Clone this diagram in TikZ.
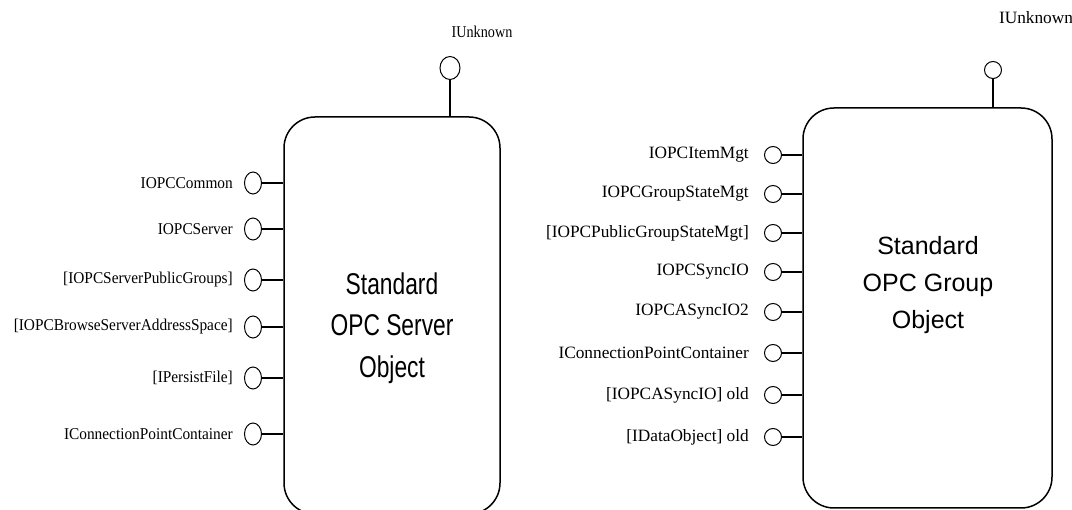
\documentclass[tikz,border=0pt]{standalone}
\usepackage{fontspec}
\setmainfont{Liberation Serif}
\newfontfamily\narrowserif[FakeStretch=0.93]{Liberation Serif}
\newfontfamily\tightserif[FakeStretch=0.86]{Liberation Serif}
\newfontfamily\narrowsans[FakeStretch=0.76]{Liberation Sans}
\newfontfamily\plainsans{Liberation Sans}
\usetikzlibrary{shapes.geometric}

\begin{document}
\begin{tikzpicture}[x=1pt,y=-1pt,
  objbox/.style={draw, line width=1.5pt, rounded corners=31pt, inner sep=0pt},
  lport/.style={draw, ellipse, line width=1pt, minimum width=17pt, minimum height=22pt, inner sep=0pt},
  rport/.style={draw, circle, line width=1pt, minimum size=17pt, inner sep=0pt},
  wire/.style={line width=1.2pt},
  llabel/.style={anchor=east, inner sep=0pt, font=\narrowserif\fontsize{16.5}{19}\selectfont},
  rlabel/.style={anchor=east, inner sep=0pt, font=\fontsize{17.3}{20}\selectfont},
  ltitle/.style={align=center, inner sep=0pt, font=\narrowsans\fontsize{30}{41.5}\selectfont},
  rtitle/.style={align=center, inner sep=0pt, font=\plainsans\fontsize{25}{37}\selectfont}
]
\useasboundingbox (0,0) rectangle (1072,510);

% ---------------- OPC server object ----------------
\node[objbox, minimum width=216pt, minimum height=397pt] (srv) at (392,315.5) {};
\node[ltitle] (srvtitle) at (392,328) {Standard\\OPC Server\\Object};

\node[draw, ellipse, line width=1pt, minimum width=20pt, minimum height=23pt, inner sep=0pt] (srvunk) at (450,68) {};
\node[inner sep=0pt, font=\tightserif\fontsize{16.5}{19}\selectfont] (srvunklbl) at (482,32) {IUnknown};
\draw[wire] (srvunk.south) -- (srvunk.south |- srv.north);

\foreach \i/\y/\txt in {
    1/183/IOPCCommon,
    2/229/IOPCServer,
    3/280/{[IOPCServerPublicGroups]},
    4/327/{[IOPCBrowseServerAddressSpace]},
    5/378/{[IPersistFile]},
    6/434/IConnectionPointContainer} {
  \node[lport] (sp\i) at (253,\y) {};
  \node[llabel] (sl\i) at (233,\y) {\txt};
  \draw[wire] (sp\i.east) -- (sp\i.east -| srv.west);
}

% ---------------- OPC group object ----------------
\node[objbox, minimum width=249pt, minimum height=400pt] (grp) at (927.5,308) {};
\node[rtitle] (grptitle) at (928,285.5) {Standard\\OPC Group\\Object};

\node[rport] (grpunk) at (993,70) {};
\node[inner sep=0pt, font=\fontsize{17.3}{20}\selectfont] (grpunklbl) at (1036,18) {IUnknown};
\draw[wire] (grpunk.south) -- (grpunk.south |- grp.north);

\foreach \i/\y/\txt in {
    1/155/IOPCItemMgt,
    2/194/IOPCGroupStateMgt,
    3/233/{[IOPCPublicGroupStateMgt]},
    4/272/IOPCSyncIO,
    5/312/IOPCASyncIO2,
    6/353/IConnectionPointContainer,
    7/395/{[IOPCASyncIO] old},
    8/437/{[IDataObject] old}} {
  \node[rport] (gp\i) at (773,\y) {};
  \node[rlabel] (gl\i) at (749,\y) {\txt};
  \draw[wire] (gp\i.east) -- (gp\i.east -| grp.west);
}
\end{tikzpicture}
\end{document}
